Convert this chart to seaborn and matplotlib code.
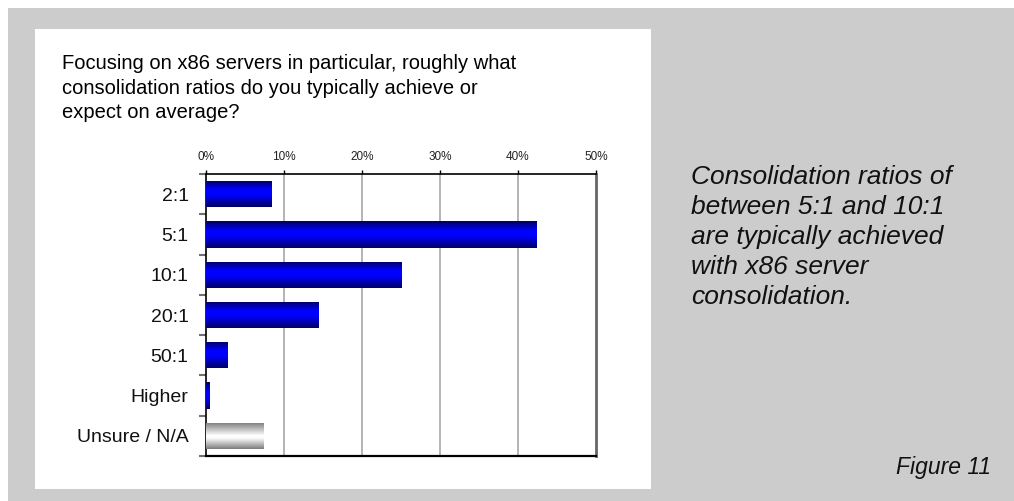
import numpy as np
import pandas as pd
import matplotlib
matplotlib.use("Agg")
import matplotlib.pyplot as plt
import seaborn as sns
from matplotlib.colors import LinearSegmentedColormap
from matplotlib.patches import Rectangle

# ---- data ----
categories = ["2:1", "5:1", "10:1", "20:1", "50:1", "Higher", "Unsure / N/A"]
values = [8.4, 42.4, 25.1, 14.4, 2.8, 0.4, 7.4]
x_ticks = [0, 10, 20, 30, 40, 50]
x_tick_labels = ["0%", "10%", "20%", "30%", "40%", "50%"]

title = ("Focusing on x86 servers in particular, roughly what\n"
         "consolidation ratios do you typically achieve or\n"
         "expect on average?")
note = ("Consolidation ratios of\nbetween 5:1 and 10:1\nare typically achieved\n"
        "with x86 server\nconsolidation.")
fig_label = "Figure 11"

sns.set_theme(style="white")
plt.rcParams["font.family"] = ["Liberation Sans", "DejaVu Sans"]

W, H = 1014, 501
fig = plt.figure(figsize=(W / 100, H / 100), dpi=100)
fig.patch.set_facecolor("white")

# background panels
fig.patches.append(Rectangle((8 / W, 0), 1, 1 - 8 / H, transform=fig.transFigure,
                             facecolor="#cccccc", edgecolor="none", zorder=-3))
fig.patches.append(Rectangle((35 / W, 1 - 489 / H), (651 - 35) / W, (489 - 29) / H,
                             transform=fig.transFigure, facecolor="white",
                             edgecolor="none", zorder=-2))

ax = fig.add_axes([206 / W, 1 - 456 / H, 390 / W, 282 / H])
ax.set_zorder(2)
ax.set_facecolor("none")

df = pd.DataFrame({"category": categories, "value": values})
sns.barplot(data=df, x="value", y="category", orient="h", ax=ax, width=0.65,
            color="#0000ff", saturation=1, edgecolor="none", zorder=3)

blue_cmap = LinearSegmentedColormap.from_list(
    "blue", [(0, "#00005a"), (0.35, "#0000ff"), (0.55, "#0000ff"), (1, "#000062")])
gray_cmap = LinearSegmentedColormap.from_list(
    "gray", [(0, "#787878"), (0.5, "#ffffff"), (0.6, "#fbfbfb"), (1, "#7a7a7a")])

grad = np.linspace(0, 1, 256).reshape(-1, 1)
for i, p in enumerate(list(ax.patches)):
    x0, y0 = p.get_x(), p.get_y()
    w, h = p.get_width(), p.get_height()
    cmap = gray_cmap if categories[i].startswith("Unsure") else blue_cmap
    im = ax.imshow(grad, extent=(x0, x0 + w, y0 + h, y0), origin="upper",
                   aspect="auto", cmap=cmap, zorder=4, interpolation="bilinear")
    im.set_clip_path(p)

ax.set_xlim(0, 50)
ax.set_ylim(6.5, -0.5)
ax.set_xlabel("")
ax.set_ylabel("")

# x axis on top
ax.xaxis.tick_top()
ax.set_xticks(x_ticks)
ax.set_xticklabels(x_tick_labels, fontsize=8.5, color="#222222")
ax.tick_params(axis="x", which="major", direction="out", length=3, width=1,
               color="black", pad=5, top=True, bottom=False)

# y axis
ax.set_yticks(range(len(categories)))
ax.set_yticklabels(categories, fontsize=14, color="#111111")
ax.set_yticks(np.arange(-0.5, len(categories), 1), minor=True)
ax.tick_params(axis="y", which="major", length=0, pad=12.5, left=True)
ax.tick_params(axis="y", which="minor", length=5, width=1.5, color="#707070",
               direction="out", left=True)

# grid
for xv in x_ticks[1:-1]:
    ax.axvline(xv, color="#a8a8a8", lw=1.2, zorder=1)

for side in ["top", "left", "bottom"]:
    ax.spines[side].set_color("black")
    ax.spines[side].set_linewidth(1.2)
ax.spines["bottom"].set_linewidth(1.6)
ax.spines["right"].set_color("#666666")
ax.spines["right"].set_linewidth(2)

fig.text(62 / W, 1 - 54 / H, title, ha="left", va="top", fontsize=14.5,
         linespacing=1.38, color="black")
fig.text(691 / W, 1 - 165 / H, note, ha="left", va="top", fontsize=19,
         style="italic", linespacing=1.31, color="#111111")
fig.text(991 / W, 1 - 474 / H, fig_label, ha="right", va="baseline",
         fontsize=16.5, style="italic", color="#111111")

fig.savefig("out.png", dpi=100)
